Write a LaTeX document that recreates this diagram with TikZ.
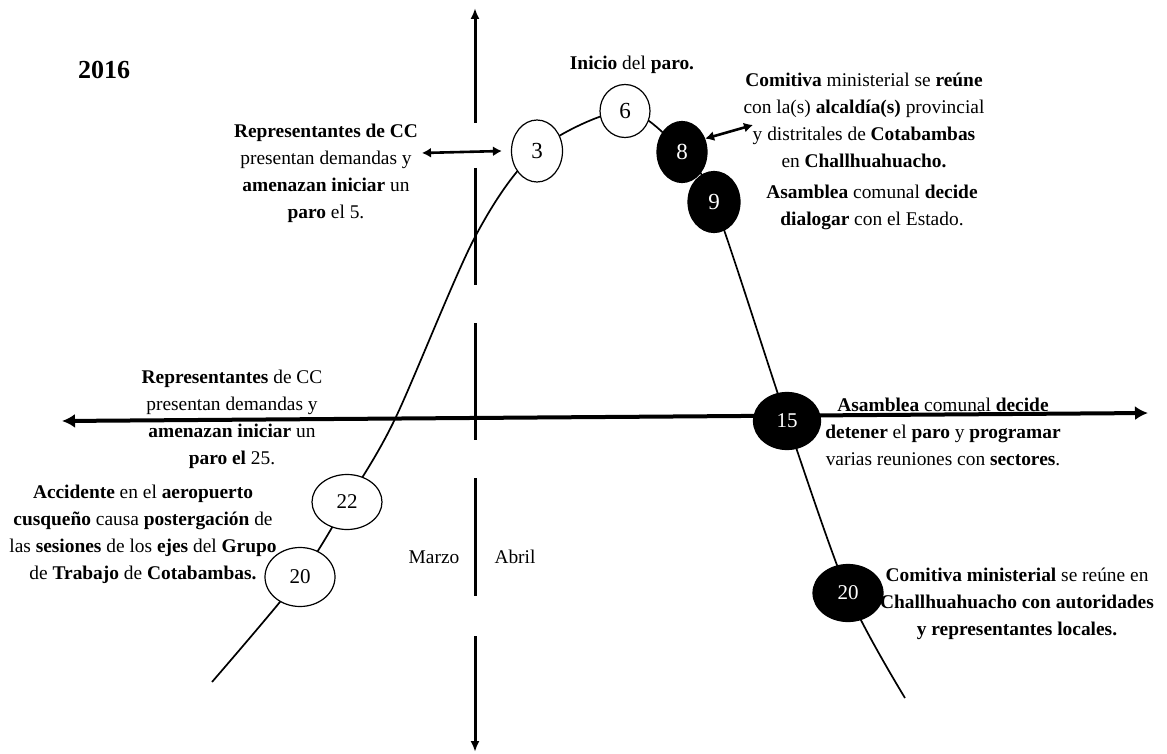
\documentclass[tikz,border=0pt]{standalone}
\usepackage{fontspec}
\setmainfont{Liberation Serif}
\usetikzlibrary{arrows.meta,shapes.geometric}

\begin{document}
\begin{tikzpicture}[x=1pt,y=-1pt,
  lbl/.style={font=\fontsize{19.4}{26.8}\selectfont, align=center, inner sep=0pt, anchor=north},
  ev/.style={ellipse, draw, line width=1.2pt, inner sep=0pt, font=\fontsize{21}{21}\selectfont},
  evw/.style={ev, fill=white},
  evb/.style={ev, fill=black, text=white},
  vax/.style={line width=3pt},
  hax/.style={line width=4pt, {Latex[length=13pt,width=14pt]}-{Latex[length=13pt,width=14pt]}},
  dbl/.style={line width=2.6pt, {Latex[length=9pt,width=10pt]}-{Latex[length=9pt,width=10pt]}},
  curve/.style={line width=1.7pt}
]
\useasboundingbox (0,0) rectangle (1167,754);

% points the curve runs through
\coordinate (c0) at (212,682);
\coordinate (p20a) at (300,577);
\coordinate (p22) at (347,502);
\coordinate (c1) at (395,419);
\coordinate (c2) at (475,237);
\coordinate (p3) at (537,151);
\coordinate (p6) at (625,111);
\coordinate (p8) at (682,152);
\coordinate (p9) at (714,202);
\coordinate (p15) at (787,421);
\coordinate (p20b) at (848,593);
\coordinate (c3) at (905,698);

% time axes
\draw[vax, -{Latex[length=11pt,width=9pt]}] (475,123) -- (475,8);
\draw[vax] (475,168) -- (475,285);
\draw[vax] (475,323) -- (475,440);
\draw[vax] (475,478) -- (475,596);
\draw[vax, -{Latex[length=11pt,width=9pt]}] (475,636) -- (475,752);
\draw[hax] (62,421) -- (1148,413);

% the course of the conflict
\draw[curve] plot[smooth, tension=0.5] coordinates {(c0) (p20a) (p22) (c1) (c2) (p3) (p6) (p8) (p9) (p15) (p20b) (c3)};

% dated events
\node[evw, minimum width=70pt, minimum height=59pt] (e20a) at (p20a) {20};
\node[evw, minimum width=70pt, minimum height=55pt] (e22) at (p22) {22};
\node[evw, minimum width=51pt, minimum height=62pt, font=\fontsize{23}{23}\selectfont] (e3) at (p3) {3};
\node[evw, minimum width=50pt, minimum height=53pt, font=\fontsize{23}{23}\selectfont] (e6) at (p6) {6};
\node[evb, minimum width=50pt, minimum height=61pt, font=\fontsize{23}{23}\selectfont] (e8) at (p8) {8};
\node[evb, minimum width=52pt, minimum height=61pt, font=\fontsize{23}{23}\selectfont] (e9) at (p9) {9};
\node[evb, minimum width=67pt, minimum height=57pt] (e15) at (p15) {15};
\node[evb, minimum width=70pt, minimum height=57pt] (e20b) at (p20b) {20};

% year and months
\node[font=\bfseries\fontsize{26}{26}\selectfont, inner sep=0pt] (year) at (104,70) {2016};
\node[font=\fontsize{19.4}{19.4}\selectfont, inner sep=0pt] (marzo) at (434,557) {Marzo};
\node[font=\fontsize{19.4}{19.4}\selectfont, inner sep=0pt] (abril) at (515,557) {Abril};

% descriptions
\node[lbl] (t3) at (326,124) {\textbf{Representantes de CC}\\ presentan demandas y\\ \textbf{amenazan iniciar} un\\ \textbf{paro} el 5.};
\node[lbl] (t6) at (632,56) {\textbf{Inicio} del \textbf{paro.}};
\node[lbl] (t8) at (864,73) {\textbf{Comitiva} ministerial se \textbf{reúne}\\ con la(s) \textbf{alcaldía(s)} provincial\\ y distritales de \textbf{Cotabambas}\\ en \textbf{Challhuahuacho.}};
\node[lbl] (t9) at (872,185) {\textbf{Asamblea} comunal \textbf{decide}\\ \textbf{dialogar} con el Estado.};
\node[lbl] (t22) at (232,370) {\textbf{Representantes} de CC\\ presentan demandas y\\ \textbf{amenazan iniciar} un\\ \textbf{paro el} 25.};
\node[lbl] (t20a) at (143,485) {\textbf{Accidente} en el \textbf{aeropuerto}\\ \textbf{cusqueño} causa \textbf{postergación} de\\ las \textbf{sesiones} de los \textbf{ejes} del \textbf{Grupo}\\ de \textbf{Trabajo} de \textbf{Cotabambas.}};
\node[lbl] (t15) at (943,398) {\textbf{Asamblea} comunal \textbf{decide}\\ \textbf{detener} el \textbf{paro} y \textbf{programar}\\ varias reuniones con \textbf{sectores}.};
\node[lbl] (t20b) at (1017,568) {\textbf{Comitiva ministerial} se reúne en\\ \textbf{Challhuahuacho con autoridades}\\ \textbf{y representantes locales.}};

% pointers from the events to their notes
\draw[dbl] (422,153) -- ([xshift=-9pt]e3.west);
\draw[dbl] (e8.30) -- (753,125);
\end{tikzpicture}
\end{document}
